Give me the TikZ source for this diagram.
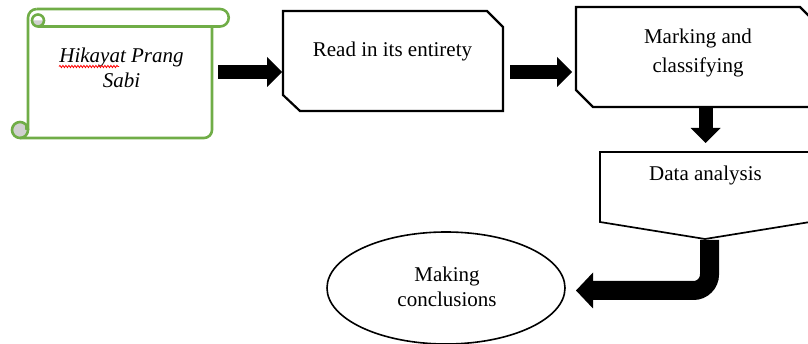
\documentclass[tikz,border=0pt]{standalone}
\usepackage{fontspec}
\setmainfont{Liberation Serif}
\usetikzlibrary{arrows.meta,decorations.pathmorphing,shapes.geometric}
\definecolor{scrollgreen}{HTML}{70AD47}
\definecolor{curlgray}{HTML}{D0D0D0}
\begin{document}
\begin{tikzpicture}[x=1pt,y=1pt,
  txt/.style={font=\fontsize{21}{25}\selectfont, anchor=base, inner sep=0pt},
  boxline/.style={draw=black, line width=2.2pt, line join=miter, fill=white},
  scrollline/.style={draw=scrollgreen, line width=2.6pt, line join=round},
  blockarrow/.style={line width=14pt, -{Triangle[length=15pt,width=30pt,line width=0pt]}},
  bigarrow/.style={line width=19pt, rounded corners=16pt, -{Triangle[length=17pt,width=36pt,line width=0pt]}},
  squiggle/.style={draw=red, line width=0.8pt, decorate, decoration={snake, amplitude=1.1pt, segment length=3pt}}]
\path[use as bounding box, clip] (0,0) rectangle (808,-344);

% ---- scroll ----
\fill[curlgray] (20,-130) circle[radius=8];
\draw[scrollline] (36.75,-9) -- (220,-9) arc[start angle=90,end angle=-90,radius=8.75] -- (38,-26.5);
\draw[scrollline] (28,-130) -- (28,-17.75) arc[start angle=180,end angle=90,radius=8.75];
\fill[curlgray] (32,-20.5) arc[start angle=180,end angle=360,radius=6] -- cycle;
\draw[scrollline] (38,-20.5) circle[radius=6];
\draw[scrollline] (212,-26.5) -- (212,-130) arc[start angle=0,end angle=-90,radius=8] -- (20,-138);
\draw[scrollline] (20,-130) circle[radius=8];
\draw[scrollline, line width=1.2pt] (25.5,-124) -- (25.5,-129) -- (28,-129);
\node[txt, font=\fontsize{21}{25}\selectfont\itshape] (hik1) at (121.5,-63) {Hikayat Prang};
\node[txt, font=\fontsize{21}{25}\selectfont\itshape] (hik2) at (121.5,-88) {Sabi};
\draw[squiggle] (59,-66.5) -- (119,-66.5);

% ---- boxes ----
\draw[boxline] (283,-11) -- (487,-11) -- (503,-27) -- (503,-111) -- (300,-111) -- (283,-95) -- cycle;
\node[txt] (read) at (392.5,-57) {Read in its entirety};

\draw[boxline] (576,-7) -- (800,-7) -- (816,-23) -- (816,-107) -- (593,-107) -- (576,-90) -- cycle;
\node[txt] (mark1) at (698,-44) {Marking and};
\node[txt] (mark2) at (698,-73) {classifying};

\draw[boxline, line width=1.7pt] (600,-152) -- (810,-152) -- (810,-222) -- (705,-239) -- (600,-222) -- cycle;
\node[txt] (data) at (705.5,-181) {Data analysis};

\node[draw, line width=1.6pt, ellipse, minimum width=238pt, minimum height=112pt, inner sep=0pt] (concl) at (446,-288) {};
\node[txt] (concl1) at (447,-282) {Making};
\node[txt] (concl2) at (447,-307) {conclusions};

% ---- arrows ----
\coordinate (a1s) at (218,-72);
\coordinate (a1e) at (282,-72);
\coordinate (a2s) at (510,-72);
\coordinate (a2e) at (572,-72);
\coordinate (a3s) at (705.5,-108);
\coordinate (a3e) at (705.5,-143);
\coordinate (a4s) at (709.5,-240);
\coordinate (a4c) at (709.5,-290.5);
\coordinate (a4e) at (576,-290.5);
\draw[blockarrow] (a1s) -- (a1e);
\draw[blockarrow] (a2s) -- (a2e);
\draw[blockarrow] (a3s) -- (a3e);
\draw[bigarrow] (a4s) -- (a4c) -- (a4e);
\end{tikzpicture}
\end{document}
